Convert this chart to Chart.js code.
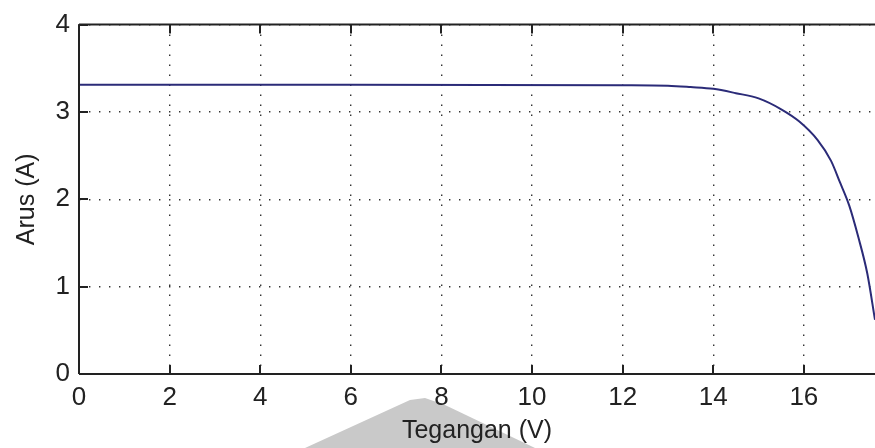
<!DOCTYPE html>
<html>
<head>
<meta charset="utf-8">
<script src="https://cdn.jsdelivr.net/npm/chart.js@4/dist/chart.umd.min.js"></script>
<style>
  html, body { margin: 0; padding: 0; background: #fff; }
  #wrap { width: 875px; height: 448px; position: relative; }
</style>
</head>
<body>
<div id="wrap"><canvas id="iv"></canvas></div>
<script>
// I-V characteristic of the PV module
const voltage = [0, 6, 12, 13, 13.5, 14, 14.5, 15, 15.5, 15.9, 16.3, 16.6, 16.8, 17.0, 17.2, 17.4, 17.57];
const current = [3.31, 3.31, 3.305, 3.30, 3.285, 3.265, 3.215, 3.155, 3.03, 2.89, 2.68, 2.44, 2.19, 1.93, 1.57, 1.15, 0.62];

const xTicks = [0, 2, 4, 6, 8, 10, 12, 14, 16];
const yTicks = [0, 1, 2, 3, 4];
const xLabel = 'Tegangan (V)';
const yLabel = 'Arus (A)';

const tickFont = { family: '"Liberation Sans Narrow", "Liberation Sans", Arial, sans-serif', size: 26 };
const titleFont = { family: '"Liberation Sans", Arial, sans-serif', size: 25 };

// grey paper shape behind the axis caption
const backdrop = {
  id: 'backdrop',
  beforeDraw(chart) {
    const c = chart.ctx;
    c.save();
    c.fillStyle = '#c9c9c9';
    c.beginPath();
    c.moveTo(305, 448);
    c.lineTo(410, 400);
    c.lineTo(425, 398);
    c.lineTo(445, 405);
    c.lineTo(535, 448);
    c.closePath();
    c.fill();
    c.restore();
  }
};

// axes box with inward tick marks
const frame = {
  id: 'frame',
  afterDatasetsDraw(chart) {
    const { ctx: c, chartArea: a, scales: { x, y } } = chart;
    c.save();
    c.strokeStyle = '#222';
    c.lineWidth = 2;
    c.beginPath();
    c.moveTo(a.left, a.top); c.lineTo(a.right + 2, a.top);
    c.moveTo(a.left, a.top); c.lineTo(a.left, a.bottom);
    c.moveTo(a.left, a.bottom); c.lineTo(a.right + 2, a.bottom);
    c.stroke();
    const len = 9;
    c.beginPath();
    xTicks.forEach(v => {
      const px = Math.round(x.getPixelForValue(v));
      c.moveTo(px, a.top); c.lineTo(px, a.top + len);
      c.moveTo(px, a.bottom); c.lineTo(px, a.bottom - len);
    });
    yTicks.forEach(v => {
      const py = Math.round(y.getPixelForValue(v));
      c.moveTo(a.left, py); c.lineTo(a.left + len, py);
    });
    c.stroke();
    c.restore();
  }
};

new Chart(document.getElementById('iv'), {
  type: 'line',
  data: {
    datasets: [{
      data: voltage.map((v, i) => ({ x: v, y: current[i] })),
      borderColor: '#2b2b78',
      borderWidth: 2,
      pointRadius: 0,
      cubicInterpolationMode: 'monotone',
      fill: false
    }]
  },
  options: {
    responsive: true,
    maintainAspectRatio: false,
    animation: false,
    layout: { padding: { top: 22, right: 0, left: 0, bottom: 0 } },
    plugins: { legend: { display: false }, tooltip: { enabled: false } },
    scales: {
      x: {
        type: 'linear',
        min: 0,
        max: 17.57,
        afterBuildTicks: s => { s.ticks = xTicks.map(v => ({ value: v })); },
        afterFit: s => { s.height = 74; },
        grid: { color: '#333', lineWidth: 1.4, drawTicks: false },
        border: { display: false, dash: [1.4, 8.6] },
        ticks: { color: '#222', font: tickFont, padding: 8, maxRotation: 0, autoSkip: false },
        title: { display: true, text: xLabel, color: '#222', font: titleFont, padding: { top: 0, bottom: 2 } }
      },
      y: {
        type: 'linear',
        min: 0,
        max: 4,
        afterBuildTicks: s => { s.ticks = yTicks.map(v => ({ value: v })); },
        afterFit: s => { s.width = 79; },
        grid: { color: '#333', lineWidth: 1.4, drawTicks: false },
        border: { display: false, dash: [1.4, 8.6] },
        ticks: { color: '#222', font: tickFont, padding: 9 },
        title: { display: true, text: yLabel, color: '#222', font: titleFont, padding: { top: 12, bottom: 0 } }
      }
    }
  },
  plugins: [backdrop, frame]
});
</script>
</body>
</html>
